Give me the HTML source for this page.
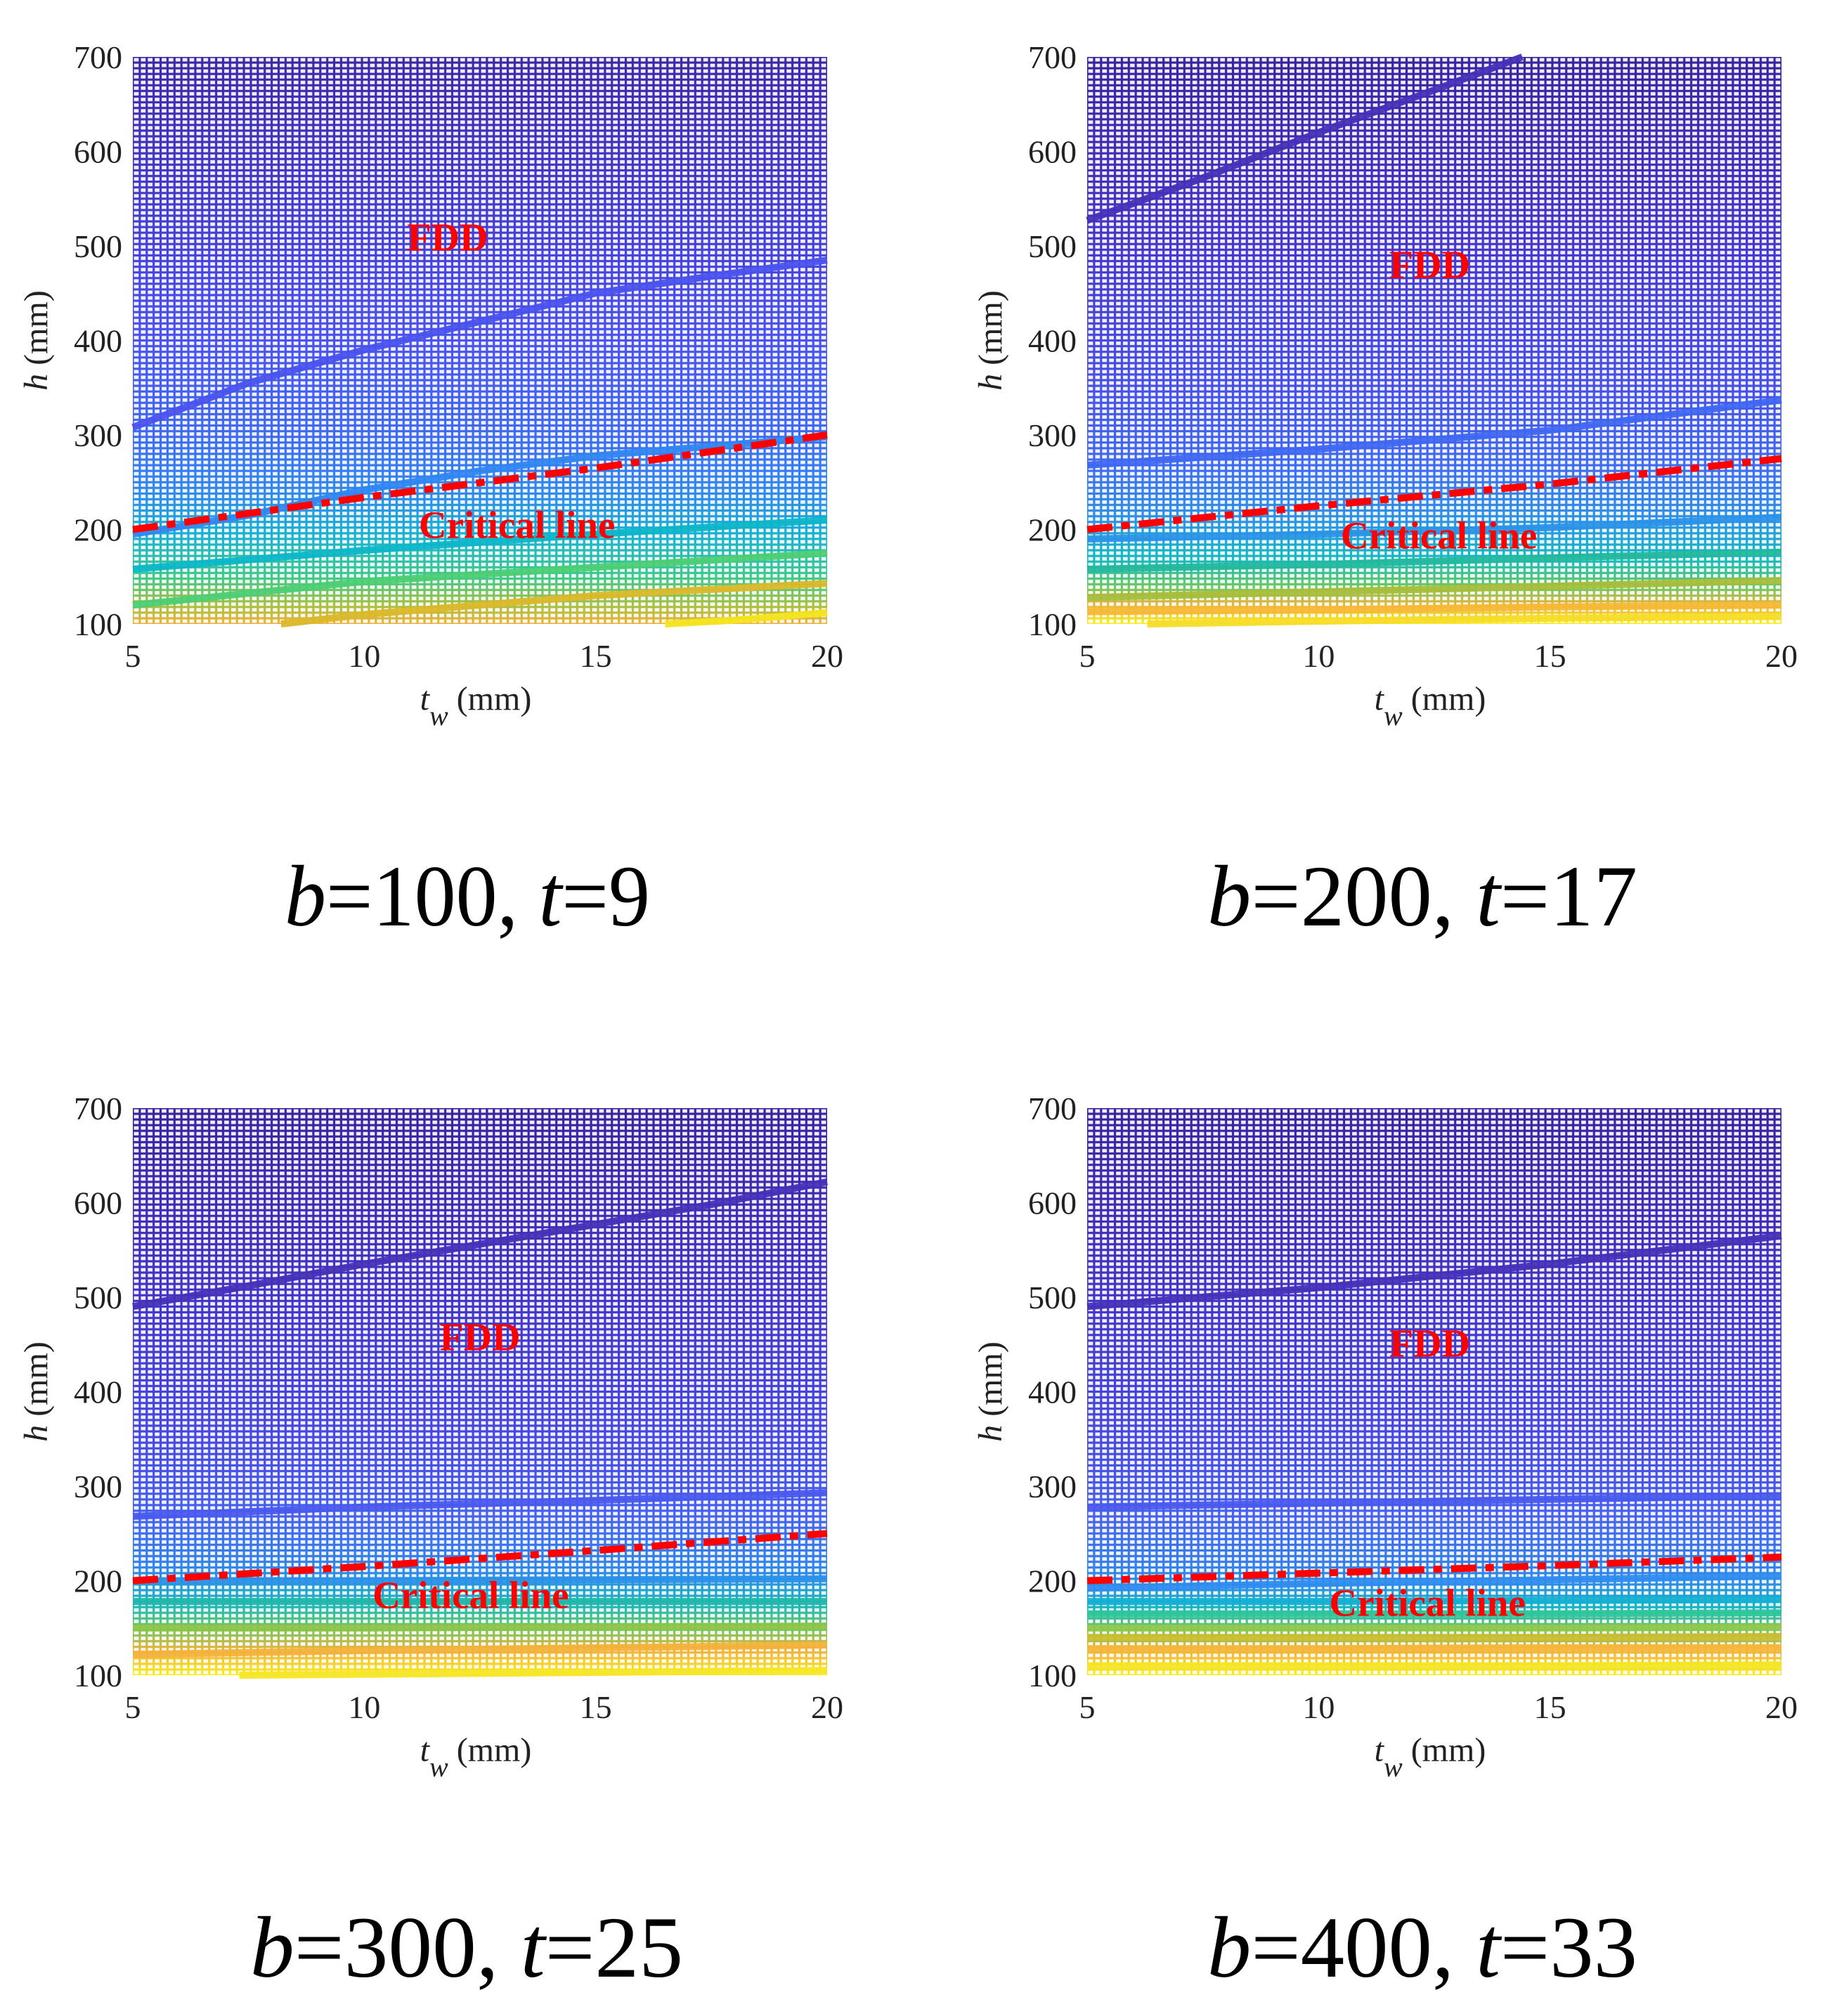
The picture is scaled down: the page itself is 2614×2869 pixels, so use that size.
<!DOCTYPE html>
<html><head><meta charset="utf-8"><style>
html,body{margin:0;padding:0;background:#fff;}
svg{display:block;}
text{font-family:"Liberation Serif",serif;}
</style></head>
<body>
<svg id="fig" width="2614" height="2869" viewBox="0 0 2614 2869" xmlns="http://www.w3.org/2000/svg">
<defs></defs>
</svg>
<script>
// ---------- data ----------
const xTicks = [5, 10, 15, 20];
const yTicks = [100, 200, 300, 400, 500, 600, 700];
const panelTitles = [["b","100","t","9"],["b","200","t","17"],["b","300","t","25"],["b","400","t","33"]];

const p1X = [[5,7.5,10,12.5,15,17.5,20],[5,7.5,10,12.5,15,17.5,20],[5,10,15,20],[5,10,15,20],[8.2,10,15,20],[16.5,18,20]];
const p1Y = [[308,355,390,420,450,468,485],[195,215,242,262,278,288,298],[158,178,195,210],[120,145,160,175],[100,110,130,143],[100,104,112]];
const p1C = ["#4a52ee","#2f86f2","#0bb6c8","#4ccd74","#dbb82a","#f4e41e"];
const p1Crit = [200, 234, 265, 300];

const p2X = [[5,7.5,10,12.5,14.4],[5,10,15,20],[5,10,15,20],[5,10,15,20],[5,10,15,20],[5,10,15,20],[6.3,10,15,20]];
const p2Y = [[527,572,620,665,700],[268,285,305,337],[190,195,202,213],[158,163,170,176],[128,134,140,146],[113,115,118,120],[100,103,106,108]];
const p2C = ["#4430b8","#3f67f2","#2a92e8","#22b89e","#a6be3a","#f5b835","#f7dc28"];
const p2Crit = [200, 225, 248, 275];

const p3X = [[5,7.5,10,12.5,15,17.5,20],[5,10,15,20],[5,10,15,20],[5,10,15,20],[5,10,15,20],[5,10,15,20],[7.3,10,15,20]];
const p3Y = [[490,512,535,556,577,598,622],[268,278,285,293],[200,200,201,202],[178,178,178,178],[150,150,151,152],[122,126,129,132],[100,101,103,105]];
const p3C = ["#4430b8","#4a58ee","#2a90e8","#21b6a8","#8cc449","#f3b23a","#f6e626"];
const p3Crit = [200, 215, 232, 250];

const p4X = [[5,10,15,20],[5,10,15,20],[5,10,15,20],[5,10,15,20],[5,10,15,20],[5,10,15,20],[5,10,15,20],[5,10,15,20],[5,10,15,20]];
const p4Y = [[490,510,535,565],[278,282,286,290],[192,197,201,205],[178,178,179,180],[165,165,165,166],[150,150,150,151],[140,140,140,141],[128,128,129,129],[110,110,110,111]];
const p4C = ["#4430b8","#4a58ee","#2f8cef","#12b0d2","#2ec59c","#8ec74a","#c9bd32","#f6b638","#f3e627"];
const p4Crit = [200, 208, 216, 225];

const critX = [5, 10, 15, 20];
const fddPos = [[11.8,495],[12.4,466],[12.5,444],[12.4,437]];
const critLabelPos = [[13.3,191],[12.6,180],[12.3,171],[12.35,163]];

// ---------- layout ----------
const panels = [
 {L:189,R:1177,T:81,B:888,X:p1X,Y:p1Y,C:p1C,crit:p1Crit,stops:[[700,"#3d27a8"],[500,"#4540d8"],[400,"#4a52ee"],[300,"#3d6af0"],[240,"#2f88ee"],[195,"#17b0d4"],[150,"#3ec98a"],[120,"#a6c040"],[100,"#f0b23a"]]},
 {L:1547,R:2535,T:81,B:888,X:p2X,Y:p2Y,C:p2C,crit:p2Crit,stops:[[700,"#3a22a0"],[500,"#4536cc"],[350,"#4650e6"],[270,"#3f6af0"],[210,"#2b92e6"],[170,"#14b8c4"],[140,"#66c864"],[120,"#ebb53a"],[100,"#f8ee20"]]},
 {L:189,R:1177,T:1577,B:2384,X:p3X,Y:p3Y,C:p3C,crit:p3Crit,stops:[[700,"#3a22a0"],[500,"#4234c8"],[350,"#4648e0"],[270,"#4560ee"],[210,"#2e88ea"],[175,"#18b6c0"],[150,"#6cc860"],[125,"#f2b23a"],[100,"#f8ee20"]]},
 {L:1547,R:2535,T:1577,B:2384,X:p4X,Y:p4Y,C:p4C,crit:p4Crit,stops:[[700,"#3a22a0"],[500,"#4234c8"],[350,"#4648e0"],[270,"#4660ee"],[200,"#2e88ea"],[170,"#18b6c0"],[145,"#7cc85a"],[125,"#f2b23a"],[100,"#f8ee20"]]}
];
const titleBase = [1317,1317,2813,2813];
const titleSpan = [[405,925],[1718,2330],[356,972],[1718,2330]];

const NS = "http://www.w3.org/2000/svg";
const svg = document.getElementById("fig");
const defs = svg.querySelector("defs");
function mk(tag, attrs, parent){const e=document.createElementNS(NS,tag);for(const k in attrs)e.setAttribute(k,attrs[k]);(parent||svg).appendChild(e);return e;}

panels.forEach((p,i)=>{
  const sx = v => p.L + (v-5)/(20-5)*(p.R-p.L);
  const sy = v => p.B - (v-100)/(700-100)*(p.B-p.T);
  const g = mk("g",{});
  
  

  const grad = mk("linearGradient",{id:"gr"+i,gradientUnits:"userSpaceOnUse",x1:0,y1:p.T,x2:0,y2:p.B},defs);
  p.stops.forEach(s=>mk("stop",{offset:((sy(s[0])-p.T)/(p.B-p.T)).toFixed(3),"stop-color":s[1]},grad));
  const pat = mk("pattern",{id:"pt"+i,patternUnits:"userSpaceOnUse",width:9.88,height:8.07,x:p.L,y:p.T},defs);
  mk("rect",{x:1.6,y:1.6,width:6.7,height:4.9,fill:"#fff","fill-opacity":0.92},pat);

  const bg = mk("rect",{x:p.L,y:p.T,width:p.R-p.L,height:p.B-p.T,fill:"url(#gr"+i+")"},g);
  
  
  mk("rect",{x:p.L,y:p.T,width:p.R-p.L,height:p.B-p.T,fill:"url(#pt"+i+")"},g);

  p.X.forEach((xs,j)=>{
    const pts = xs.map((x,k)=>sx(x).toFixed(1)+","+sy(p.Y[j][k]).toFixed(1)).join(" ");
    const pl = mk("polyline",{points:pts,fill:"none",stroke:p.C[j],"stroke-width":10,"stroke-linejoin":"round","stroke-opacity":0.95},g);
    
    
  });
  const cpts = critX.map((x,k)=>sx(x).toFixed(1)+","+sy(p.crit[k]).toFixed(1)).join(" ");
  const cl = mk("polyline",{points:cpts,fill:"none",stroke:"#ff0000","stroke-width":10,"stroke-dasharray":"36,13,12,13"},g);
  
  

  const f = mk("text",{x:sx(fddPos[i][0]),y:sy(fddPos[i][1]),"text-anchor":"middle","font-size":56,"font-weight":"bold",fill:"#ff0000"},g);
  f.textContent="FDD";
  
  
  const c = mk("text",{x:sx(critLabelPos[i][0]),y:sy(critLabelPos[i][1]),"text-anchor":"middle","font-size":55,"font-weight":"bold",fill:"#ff0000"},g);
  c.textContent="Critical line";
  
  

  yTicks.forEach(v=>{
    const t = mk("text",{x:p.L-15,y:sy(v)+16,"text-anchor":"end","font-size":46,fill:"#222"});
    t.textContent=v;
    
    
  });
  xTicks.forEach(v=>{
    const t = mk("text",{x:sx(v),y:p.B+61,"text-anchor":"middle","font-size":46,fill:"#222"});
    t.textContent=v;
    
    
  });
  const yl = mk("text",{transform:"translate("+(p.L-122)+","+((p.T+p.B)/2)+") rotate(-90)","text-anchor":"middle","font-size":48,fill:"#222"});
  yl.innerHTML='<tspan font-style="italic">h</tspan> (mm)';
  
  
  const xl = mk("text",{x:(p.L+p.R)/2-6,y:p.B+122,"text-anchor":"middle","font-size":48,fill:"#222"});
  xl.innerHTML='<tspan font-style="italic">t</tspan><tspan font-style="italic" font-size="40" dy="22">w</tspan><tspan dy="-22"> (mm)</tspan>';
  
  

  const tt = panelTitles[i];
  const ti = mk("text",{x:titleSpan[i][0],y:titleBase[i],"font-size":124,fill:"#000",textLength:titleSpan[i][1]-titleSpan[i][0],lengthAdjust:"spacingAndGlyphs"});
  ti.innerHTML='<tspan font-style="italic">'+tt[0]+'</tspan>='+tt[1]+',  <tspan font-style="italic">'+tt[2]+'</tspan>='+tt[3];
  
  
});
</script>
</body></html>
